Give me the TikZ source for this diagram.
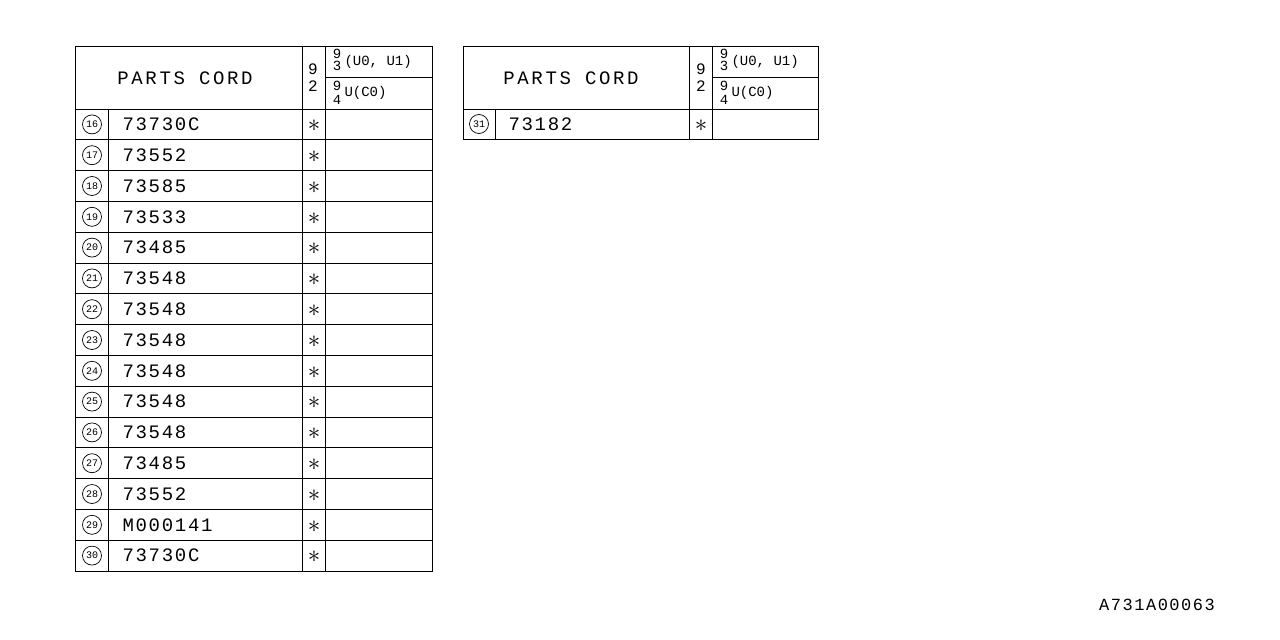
\documentclass[tikz,border=0pt]{standalone}
\usepackage{fontspec}
\setmainfont{Liberation Mono}[LetterSpace=9]
\usetikzlibrary{positioning}

\begin{document}
\begin{tikzpicture}[x=1pt, y=-1pt, line width=1pt,
    code/.style={anchor=west, inner sep=0pt, font=\fontsize{19}{19}\selectfont},
    num/.style={circle, draw, line width=0.7pt, inner sep=0pt, minimum size=19pt,
      font=\fontsize{10}{10}\selectfont\addfontfeature{LetterSpace=0}},
    star/.style={inner sep=0pt, font=\fontsize{28}{28}\selectfont},
    head/.style={inner sep=0pt, font=\fontsize{19}{19}\selectfont\addfontfeature{LetterSpace=14}},
    small/.style={inner sep=0pt, font=\fontsize{14}{14}\selectfont\addfontfeature{LetterSpace=0}},
    year/.style={inner sep=0pt, font=\fontsize{16}{16}\selectfont\addfontfeature{LetterSpace=0}}]
  \useasboundingbox (0,0) rectangle (1280,640);
  \def\rh{30.8}

  % left table
  \draw (75,46) rectangle (432,571);
  \draw (302,46) -- (302,571);
  \draw (325,46) -- (325,571);
  \draw (325,77) -- (432,77);
  \draw (108,109) -- (108,571);
  \foreach \i in {0,...,14}
    \draw (75,109+\i*\rh) -- (432,109+\i*\rh);

  \node[head] (hdrA) at (185,78) {PARTS CORD};
  \node[year] (yrA1) at (313,69) {9};
  \node[year] (yrA2) at (313,86) {2};
  \node[small] (upA1) at (337,54) {9};
  \node[small] (loA1) at (337,66) {3};
  \node[small, anchor=west] (txA1) at (344,62) {(U0, U1)};
  \node[small] (upA2) at (337,86) {9};
  \node[small] (loA2) at (337,100) {4};
  \node[small, anchor=west] (txA2) at (344,93) {U(C0)};

  \foreach \n [count=\i] in {73730C,73552,73585,73533,73485,73548,73548,73548,
      73548,73548,73548,73485,73552,M000141,73730C} {
    \pgfmathtruncatemacro\k{\i+15}
    \pgfmathsetmacro\yc{109+(\i-0.5)*\rh}
    \node[num] (numA\i) at (92,\yc) {\k};
    \node[code] (codeA\i) at (122,\yc) {\n};
    \node[star] (starA\i) at (314,\yc+1.5) {$\ast$};
  }

  % right table
  \draw (463,46) rectangle (818,139);
  \draw (689,46) -- (689,139);
  \draw (712,46) -- (712,139);
  \draw (712,77) -- (818,77);
  \draw (463,109) -- (818,109);
  \draw (495,109) -- (495,139);

  \node[head] (hdrB) at (571,78) {PARTS CORD};
  \node[year] (yrB1) at (701,69) {9};
  \node[year] (yrB2) at (701,86) {2};
  \node[small] (upB1) at (724,54) {9};
  \node[small] (loB1) at (724,66) {3};
  \node[small, anchor=west] (txB1) at (731,62) {(U0, U1)};
  \node[small] (upB2) at (724,86) {9};
  \node[small] (loB2) at (724,100) {4};
  \node[small, anchor=west] (txB2) at (731,93) {U(C0)};

  \node[num] (numB1) at (479,124) {31};
  \node[code] (codeB1) at (508,124) {73182};
  \node[star] (starB1) at (701,125.5) {$\ast$};

  \node[head, font=\fontsize{17}{17}\selectfont] (figid) at (1157,605) {A731A00063};
\end{tikzpicture}
\end{document}
